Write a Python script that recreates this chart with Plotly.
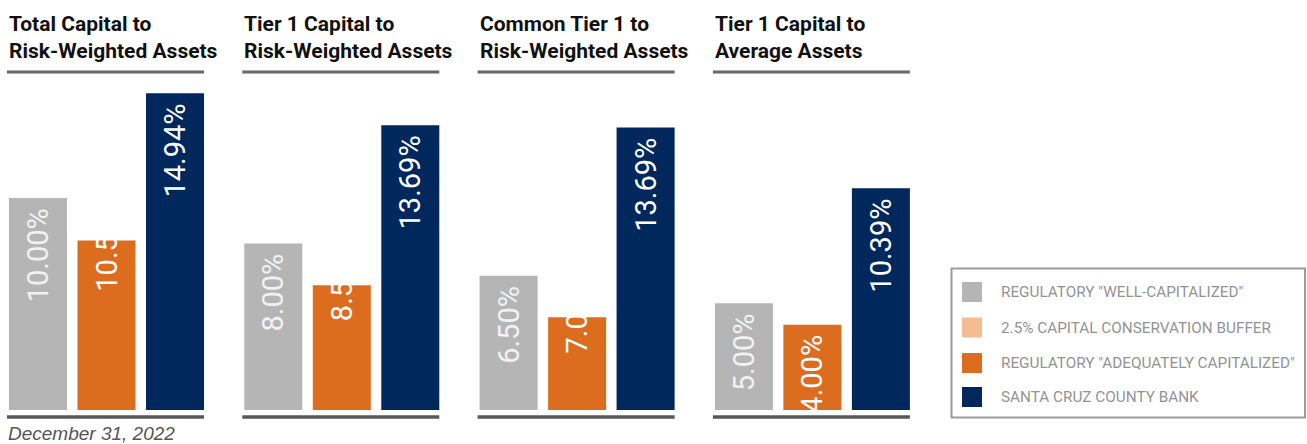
import plotly.graph_objects as go
from plotly.subplots import make_subplots

# ---------------- data ----------------
panel_titles = [
    ["Total Capital to", "Risk-Weighted Assets"],
    ["Tier 1 Capital to", "Risk-Weighted Assets"],
    ["Common Tier 1 to", "Risk-Weighted Assets"],
    ["Tier 1 Capital to", "Average Assets"],
]
categories = ["Well-Capitalized", "Adequately Capitalized", "Santa Cruz County Bank"]
well_capitalized = [10.00, 8.00, 6.50, 5.00]
adequately_capitalized = [8.00, 6.00, 4.50, 4.00]
conservation_buffer = [2.50, 2.50, 2.50, 0.00]
santa_cruz_bank = [14.94, 13.69, 13.69, 10.39]
legend_labels = [
    'REGULATORY "WELL-CAPITALIZED"',
    "2.5% CAPITAL CONSERVATION BUFFER",
    'REGULATORY "ADEQUATELY CAPITALIZED"',
    "SANTA CRUZ COUNTY BANK",
]
date_label = "December 31, 2022"

# ---------------- style ----------------
W, H = 1307, 444
GRAY = "#b5b5b5"
PEACH = "#f2bd93"
ORANGE = "#dc6d1f"
NAVY = "#00285c"
legend_colors = [GRAY, PEACH, ORANGE, NAVY]
y_max = [15.85, 16.15, 16.28, 15.75]

TITLE_FONT = "Roboto, Liberation Sans, Arial, sans-serif"
LABEL_FONT = "Roboto, Liberation Sans, Arial, sans-serif"


def px_x(v):
    return v / W


def px_y(v):
    return 1 - v / H


def fmt(v):
    return f"{v:.2f}%\u00a0"


fig = make_subplots(rows=1, cols=4)

label_common = dict(
    textangle=-90,
    textposition="inside",
    insidetextanchor="end",
    constraintext="none",
    hoverinfo="skip",
)

for i in range(4):
    r, c = 1, i + 1
    fig.add_trace(go.Bar(
        x=[categories[0]], y=[well_capitalized[i]],
        marker=dict(color=GRAY, line=dict(width=0)),
        text=[fmt(well_capitalized[i])],
        textfont=dict(family=LABEL_FONT, size=29, color="#f2f2f2", weight=400),
        showlegend=False, **label_common), row=r, col=c)
    fig.add_trace(go.Bar(
        x=[categories[1]], y=[adequately_capitalized[i]],
        marker=dict(color=ORANGE, line=dict(width=0)),
        showlegend=False, hoverinfo="skip"), row=r, col=c)
    fig.add_trace(go.Bar(
        x=[categories[1]], y=[adequately_capitalized[i] + conservation_buffer[i]],
        marker=dict(color="rgba(255,255,255,0)", line=dict(width=0)),
        text=[fmt(adequately_capitalized[i] + conservation_buffer[i])],
        textfont=dict(family=LABEL_FONT, size=29, color="#ffffff", weight=400),
        showlegend=False, **label_common), row=r, col=c)
    fig.add_trace(go.Bar(
        x=[categories[2]], y=[santa_cruz_bank[i]],
        marker=dict(color=NAVY, line=dict(width=0)),
        text=[fmt(santa_cruz_bank[i])],
        textfont=dict(family=LABEL_FONT, size=29, color="#ffffff", weight=400),
        showlegend=False, **label_common), row=r, col=c)

# geometry of panels (pixels)
panel_left = [3.75 + 235.3 * i for i in range(4)]
panel_width = 205.5
y_dom = [34 / H, 370 / H]

shapes = []
annotations = []
for i in range(4):
    xa = "xaxis" if i == 0 else f"xaxis{i+1}"
    ya = "yaxis" if i == 0 else f"yaxis{i+1}"
    d0 = px_x(panel_left[i])
    d1 = px_x(panel_left[i] + panel_width)
    fig.layout[xa].update(domain=[d0, d1], visible=False, range=[-0.5, 2.5],
                          categoryorder="array", categoryarray=categories, fixedrange=True)
    fig.layout[ya].update(domain=y_dom, visible=False, range=[0, y_max[i]], fixedrange=True)

    lx0 = px_x(panel_left[i] + 3.25)
    lx1 = px_x(panel_left[i] + panel_width - 5.25)
    shapes.append(dict(type="line", xref="paper", yref="paper", x0=lx0, x1=lx1,
                       y0=px_y(72), y1=px_y(72), line=dict(color="#676767", width=3)))
    shapes.append(dict(type="line", xref="paper", yref="paper", x0=lx0, x1=lx1,
                       y0=px_y(417), y1=px_y(417), line=dict(color="#585858", width=3.5)))
    for j, line in enumerate(panel_titles[i]):
        annotations.append(dict(
            text=line, xref="paper", yref="paper",
            x=lx0, y=px_y(24 + 26.7 * j), xanchor="left", yanchor="middle",
            showarrow=False, align="left",
            font=dict(family=TITLE_FONT, size=21, color="#111111", weight=700)))

# legend box
shapes.append(dict(type="rect", xref="paper", yref="paper",
                   x0=px_x(951.5), x1=px_x(1305), y0=px_y(268.5), y1=px_y(417.5),
                   line=dict(color="#9c9c9c", width=2), fillcolor="rgba(0,0,0,0)"))
legend_rows = [292, 327.5, 363, 397]
for k, lab in enumerate(legend_labels):
    yc = legend_rows[k]
    shapes.append(dict(type="rect", xref="paper", yref="paper",
                       x0=px_x(962), x1=px_x(982), y0=px_y(yc - 10), y1=px_y(yc + 10),
                       line=dict(width=0), fillcolor=legend_colors[k]))
    annotations.append(dict(
        text=lab, xref="paper", yref="paper", x=px_x(999), y=px_y(yc),
        xanchor="left", yanchor="middle", showarrow=False,
        font=dict(family=TITLE_FONT, size=15.3, color="#939393", weight=400)))

annotations.append(dict(
    text=f"<i>{date_label}</i>", xref="paper", yref="paper", x=px_x(6), y=px_y(433.5),
    xanchor="left", yanchor="middle", showarrow=False,
    font=dict(family="Liberation Sans, Arial, sans-serif", size=19, color="#555555")))

fig.update_layout(
    width=W, height=H,
    margin=dict(l=0, r=0, t=0, b=0),
    paper_bgcolor="white", plot_bgcolor="white",
    barmode="overlay", bargap=0.153,
    showlegend=False,
    shapes=shapes, annotations=annotations,
)

fig.write_html("out.html", config={"displayModeBar": False})
